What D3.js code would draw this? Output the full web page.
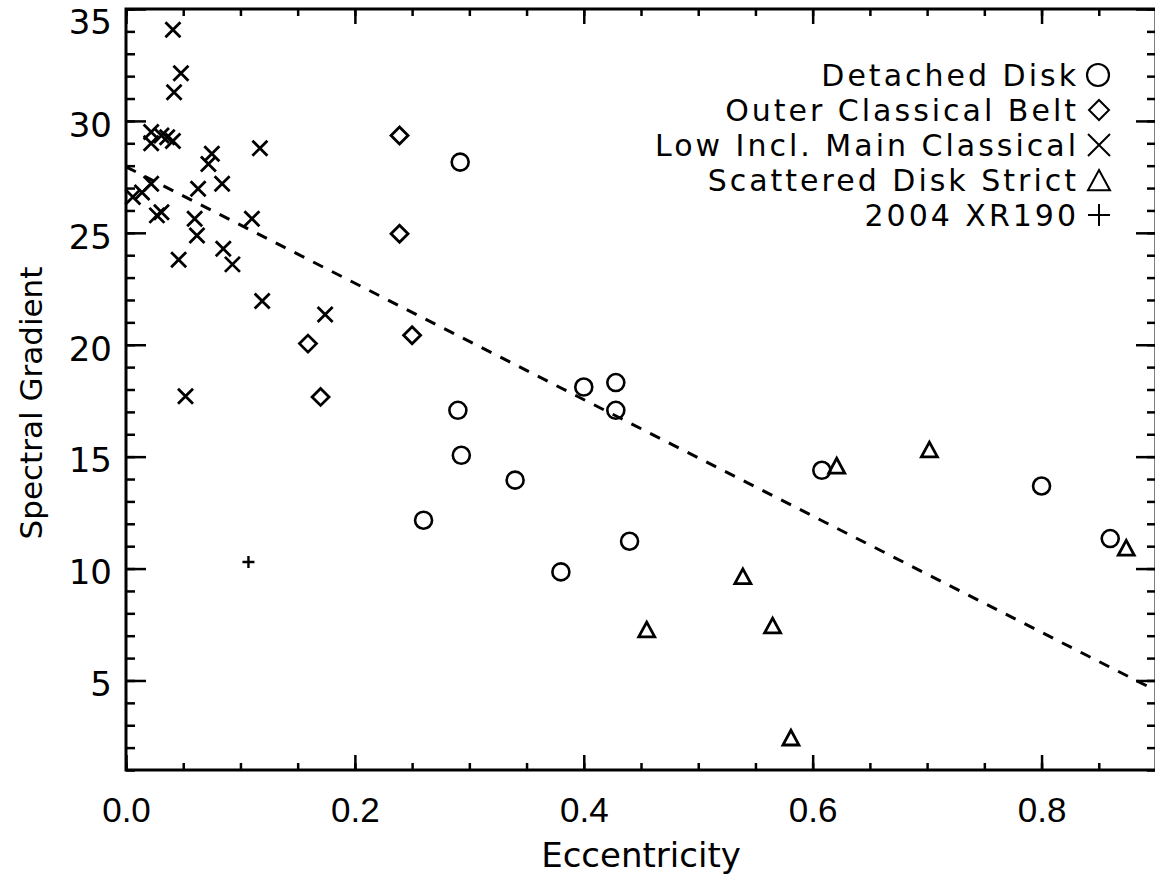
<!DOCTYPE html>
<html>
<head>
<meta charset="utf-8">
<script src="https://cdn.jsdelivr.net/npm/d3@7"></script>
<style>
  body { margin: 0; background: #fff; }
  svg { display: block; }
</style>
</head>
<body>
<script>
// values (eccentricity vs spectral gradient)
var detachedE = [0.292, 0.290, 0.293, 0.260, 0.340, 0.400, 0.428, 0.428, 0.440, 0.380, 0.608, 0.800, 0.860];
var detachedG = [28.16, 17.07, 15.06, 12.16, 13.95, 18.11, 18.31, 17.07, 11.22, 9.85, 14.39, 13.69, 11.34];

var outerE = [0.239, 0.239, 0.250, 0.159, 0.170];
var outerG = [29.35, 24.96, 20.42, 20.05, 17.67];

var lowE = [0.041, 0.048, 0.042, 0.022, 0.022, 0.031, 0.036, 0.041, 0.117, 0.075, 0.072, 0.063, 0.084, 0.022,
            0.006, 0.014, 0.027, 0.031, 0.060, 0.062, 0.110, 0.046, 0.085, 0.093, 0.119, 0.174, 0.052];
var lowG = [34.07, 32.13, 31.28, 29.5, 29.0, 29.35, 29.27, 29.1, 28.78, 28.53, 28.08, 26.97, 27.19, 27.19,
            26.6, 26.8, 25.78, 25.92, 25.63, 24.88, 25.63, 23.8, 24.29, 23.59, 21.95, 21.35, 17.7];

var scatteredE = [0.621, 0.702, 0.874, 0.539, 0.455, 0.565, 0.581];
var scatteredG = [14.57, 15.29, 10.9, 9.63, 7.25, 7.43, 2.42];

var xr190E = [0.107];
var xr190G = [10.29];

// linear fit drawn as dashed line
var fitIntercept = 27.95;
var fitSlope = -26.0;

var legendNames = ["Detached Disk", "Outer Classical Belt", "Low Incl. Main Classical", "Scattered Disk Strict", "2004 XR190"];
var legendKinds = ["circle", "diamond", "cross", "triangle", "plus"];

var xTicks = [0.0, 0.2, 0.4, 0.6, 0.8];
var yTicks = [5, 10, 15, 20, 25, 30, 35];

var W = 1155, H = 879;
var svg = d3.select("body").append("svg")
  .attr("width", W)
  .attr("height", H);
svg.append("rect").attr("width", W).attr("height", H).attr("fill", "#fff");

var x = d3.scaleLinear().domain([0, 0.9]).range([126, 1156]);
var y = d3.scaleLinear().domain([1, 35]).range([770, 9]);

// marker shapes (size = half width)
function shapePath(kind, s){
  if(kind == "diamond") return "M0," + (-s) + "L" + s + ",0L0," + s + "L" + (-s) + ",0Z";
  if(kind == "cross") return "M" + (-s) + "," + (-s) + "L" + s + "," + s + "M" + (-s) + "," + s + "L" + s + "," + (-s);
  if(kind == "triangle") return "M0," + (-s) + "L" + s + "," + (s*0.85) + "L" + (-s) + "," + (s*0.85) + "Z";
  if(kind == "plus") return "M" + (-s) + ",0L" + s + ",0M0," + (-s) + "L0," + s;
  return "";
}

var plot = svg.append("g");

// dashed fit line
var fitXs = x.domain();
plot.append("line")
  .attr("x1", x(fitXs[0]))
  .attr("y1", y(fitIntercept + fitSlope * fitXs[0]))
  .attr("x2", x(fitXs[1]))
  .attr("y2", y(fitIntercept + fitSlope * fitXs[1]))
  .attr("stroke", "#000")
  .attr("stroke-width", 3)
  .attr("stroke-dasharray", "11,10");

var series = [
  {e: detachedE, g: detachedG, kind: "circle", size: 8.5},
  {e: outerE, g: outerG, kind: "diamond", size: 8.5},
  {e: lowE, g: lowG, kind: "cross", size: 7.5},
  {e: scatteredE, g: scatteredG, kind: "triangle", size: 8},
  {e: xr190E, g: xr190G, kind: "plus", size: 6}
];

series.forEach(function(sr){
  var pts = sr.e.map(function(v, i){ return [v, sr.g[i]]; });
  if(sr.kind == "circle"){
    plot.selectAll(null).data(pts).enter().append("circle")
      .attr("cx", function(d){ return x(d[0]); })
      .attr("cy", function(d){ return y(d[1]); })
      .attr("r", sr.size)
      .attr("fill", "none")
      .attr("stroke", "#000")
      .attr("stroke-width", 2.6);
  }else{
    plot.selectAll(null).data(pts).enter().append("path")
      .attr("transform", function(d){ return "translate(" + x(d[0]) + "," + y(d[1]) + ")"; })
      .attr("d", shapePath(sr.kind, sr.size))
      .attr("fill", "none")
      .attr("stroke", "#000")
      .attr("stroke-width", sr.kind == "plus" ? 2.4 : 2.8)
      .attr("stroke-linejoin", "miter");
  }
});

// axes: ticks point inward, IDL style
function styleAxis(g){
  g.select(".domain").remove();
  g.selectAll(".tick line").attr("stroke", "#000").attr("stroke-width", 2.5);
}

var xMinor = d3.range(0, 0.9001, 0.05);
var yMinor = d3.range(1, 35.001, 1);

svg.append("g").attr("transform", "translate(0," + y.range()[0] + ")")
  .call(d3.axisBottom(x).tickValues(xMinor).tickSize(-7).tickFormat(""))
  .call(styleAxis);
svg.append("g").attr("transform", "translate(0," + y.range()[1] + ")")
  .call(d3.axisTop(x).tickValues(xMinor).tickSize(-7).tickFormat(""))
  .call(styleAxis);
svg.append("g").attr("transform", "translate(" + x.range()[0] + ",0)")
  .call(d3.axisLeft(y).tickValues(yMinor).tickSize(-9).tickFormat(""))
  .call(styleAxis);
svg.append("g").attr("transform", "translate(" + x.range()[1] + ",0)")
  .call(d3.axisRight(y).tickValues(yMinor).tickSize(-9).tickFormat(""))
  .call(styleAxis);

var xAxis = svg.append("g").attr("transform", "translate(0," + y.range()[0] + ")")
  .call(d3.axisBottom(x).tickValues(xTicks).tickSizeInner(-15).tickSizeOuter(0).tickPadding(27)
    .tickFormat(d3.format(".1f")))
  .call(styleAxis);
xAxis.selectAll("text")
  .attr("font-family", "'Liberation Sans', sans-serif")
  .attr("font-size", 35)
  .attr("fill", "#000");

svg.append("g").attr("transform", "translate(0," + y.range()[1] + ")")
  .call(d3.axisTop(x).tickValues(xTicks).tickSizeInner(-15).tickSizeOuter(0).tickFormat(""))
  .call(styleAxis);

var yAxis = svg.append("g").attr("transform", "translate(" + x.range()[0] + ",0)")
  .call(d3.axisLeft(y).tickValues(yTicks).tickSizeInner(-20).tickSizeOuter(0).tickPadding(14))
  .call(styleAxis);
yAxis.selectAll("text")
  .attr("font-family", "'DejaVu Sans', sans-serif")
  .attr("font-size", 34)
  .attr("dy", function(d){ return d == 35 ? "0.72em" : "0.45em"; })
  .attr("fill", "#000");

svg.append("g").attr("transform", "translate(" + x.range()[1] + ",0)")
  .call(d3.axisRight(y).tickValues(yTicks).tickSizeInner(-20).tickSizeOuter(0).tickFormat(""))
  .call(styleAxis);

// frame
svg.append("rect")
  .attr("x", x.range()[0])
  .attr("y", y.range()[1])
  .attr("width", x.range()[1] - x.range()[0])
  .attr("height", y.range()[0] - y.range()[1])
  .attr("fill", "none")
  .attr("stroke", "#000")
  .attr("stroke-width", 3);

// axis titles
svg.append("text")
  .attr("x", 641)
  .attr("y", 867)
  .attr("text-anchor", "middle")
  .attr("font-family", "'DejaVu Sans', sans-serif")
  .attr("font-size", 34)
  .text("Eccentricity");

svg.append("text")
  .attr("transform", "translate(42,403) rotate(-90)")
  .attr("text-anchor", "middle")
  .attr("font-family", "'DejaVu Sans', sans-serif")
  .attr("font-size", 31)
  .text("Spectral Gradient");

// legend, right aligned text with symbol after it
var legend = svg.append("g");
legendNames.forEach(function(name, i){
  var ly = 75 + i * 35;
  legend.append("text")
    .attr("x", 1079)
    .attr("y", ly + 11)
    .attr("text-anchor", "end")
    .attr("font-family", "'DejaVu Sans', sans-serif")
    .attr("font-size", 30)
    .attr("letter-spacing", 3)
    .text(name);
  var kind = legendKinds[i];
  if(kind == "circle"){
    legend.append("circle")
      .attr("cx", 1098).attr("cy", ly).attr("r", 11)
      .attr("fill", "none").attr("stroke", "#000").attr("stroke-width", 2.2);
  }else{
    legend.append("path")
      .attr("transform", "translate(1099," + (kind == "triangle" ? ly + 1 : ly) + ")")
      .attr("d", shapePath(kind, kind == "diamond" ? 10 : 11))
      .attr("fill", "none").attr("stroke", "#000").attr("stroke-width", 2);
  }
});
</script>
</body>
</html>
